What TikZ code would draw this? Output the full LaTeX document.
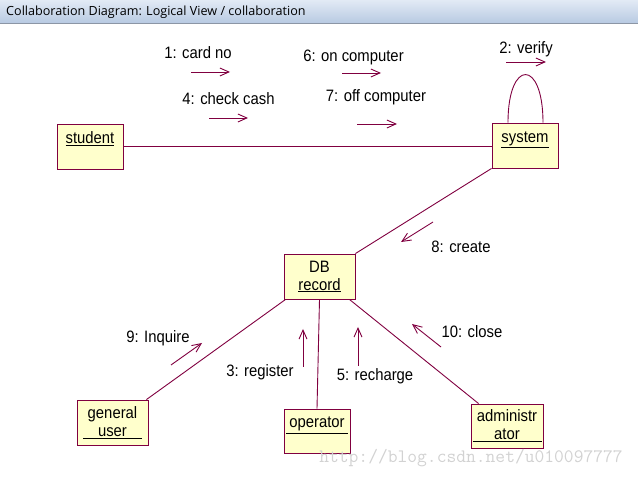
\documentclass[tikz,border=0pt]{standalone}
\usepackage{fontspec}
\setmainfont{Liberation Sans}[FakeStretch=0.9]
\newfontfamily\titlefont{Open Sans}
\usetikzlibrary{arrows.meta, positioning, calc}
\definecolor{rosered}{RGB}{128,0,64}
\definecolor{roseyellow}{RGB}{255,255,204}
\definecolor{bartop}{RGB}{226,234,245}
\definecolor{barbot}{RGB}{184,202,226}
\definecolor{barline}{RGB}{140,150,165}

\begin{document}
\begin{tikzpicture}[x=1pt, y=-1pt,
    obj/.style={draw=rosered, fill=roseyellow, line width=0.9pt, inner sep=0pt,
        minimum width=66pt, minimum height=45pt, align=center,
        font=\fontsize{16.5}{18}\selectfont},
    oneline/.style={text height=11pt, text depth=17pt},
    link/.style={draw=rosered, line width=0.9pt},
    msg/.style={draw=rosered, line width=0.9pt, -{Straight Barb[length=9pt,width=8pt]}},
    msglabel/.style={inner sep=0pt, font=\fontsize{16.5}{18}\selectfont}]
\useasboundingbox (0,0) rectangle (638,478);

% Window title bar
\shade[top color=bartop, bottom color=barbot] (0,0) rectangle (638,23);
\draw[barline] (0,23.5) -- (638,23.5);
\node[anchor=west, inner sep=0pt, font=\titlefont\fontsize{12.6}{14}\selectfont] (title) at (6,12.5)
    {Collaboration Diagram: Logical View / collaboration};

% Objects
\node[obj, oneline] (student) at (90,146.5) {\underline{student}};
\node[obj, oneline] (system) at (525,145.5) {\underline{system}};
\node[obj, minimum width=71pt] (record) at (319.5,276.5) {DB\\\underline{record}};
\node[obj, minimum width=71pt] (guser) at (112.5,422.5) {general\\\underline{\makebox[59pt]{user}}};
\node[obj, oneline, minimum height=44pt] (operator) at (317,431) {\underline{\makebox[62pt]{operator}}};
\node[obj, minimum width=72pt, minimum height=44pt] (admin) at (507,426) {administr\\\underline{\makebox[69pt]{ator}}};

% Links
\draw[link] (student.east) -- (student.east -| system.west);
\draw[link] (system.south west) -- (record.north east);
\draw[link] ([xshift=2pt]record.south west) -- ([xshift=-2pt]guser.north east);
\draw[link] (record.south) -- (operator.north);
\draw[link] ([xshift=-6pt]record.south east) -- ([xshift=8pt]admin.north west);
\draw[link] ([xshift=-17pt]system.north) .. controls +(0,-64) and +(0,-64) .. ([xshift=18pt]system.north);

% Messages
\node[msglabel] (m1) at (198,53) {1: card no};
\draw[msg] ($(m1)+(-7,19)$) -- ++(39,0);
\node[msglabel] (m2) at (526,49) {2: verify};
\draw[msg] ($(m2)+(-20,13)$) -- ++(40,0);
\node[msglabel] (m3) at (260,372) {3: register};
\draw[msg] ($(m3)+(43,-5)$) -- ++(0,-38);
\node[msglabel] (m4) at (228.5,99) {4: check cash};
\draw[msg] ($(m4)+(-19.5,19)$) -- ++(39,0);
\node[msglabel] (m5) at (375,376) {5: recharge};
\draw[msg] ($(m5)+(-17,-10)$) -- ++(0,-39);
\node[msglabel] (m6) at (353.5,57) {6: on computer};
\draw[msg] ($(m6)+(-11.5,16)$) -- ++(39,0);
\node[msglabel] (m7) at (376,97) {7: off computer};
\draw[msg] ($(m7)+(-19,27)$) -- ++(40,0);
\node[msglabel] (m8) at (461,247) {8: create};
\draw[msg] ($(m8)+(-28,-25)$) -- ++(-32,20);
\node[msglabel] (m9) at (158,338) {9: Inquire};
\draw[msg] ($(m9)+(13,27)$) -- ++(31,-22);
\node[msglabel] (m10) at (472,332) {10: close};
\draw[msg] ($(m10)+(-31,15)$) -- ++(-29,-23);

% Watermark
\node[font=\ttfamily\fontsize{19}{20}\selectfont, text=gray!35] (mark) at (471,458)
    {http://blog.csdn.net/u010097777};
\end{tikzpicture}
\end{document}
